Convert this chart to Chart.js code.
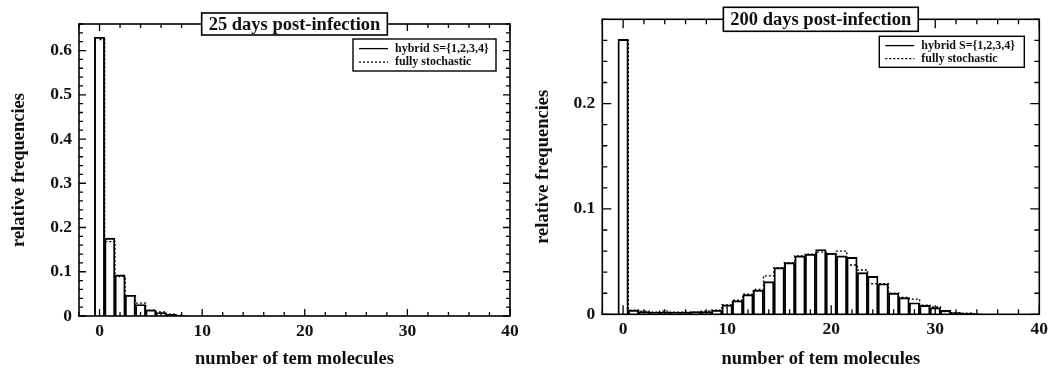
<!DOCTYPE html>
<html>
<head>
<meta charset="utf-8">
<script src="https://cdn.jsdelivr.net/npm/chart.js@4/dist/chart.umd.min.js"></script>
<style>
  body { margin: 0; background: #fff; }
  canvas { position: absolute; top: 0; }
  #left { left: 0; }
  #right { left: 530px; }
</style>
</head>
<body>
<canvas id="left" width="530" height="369"></canvas>
<canvas id="right" width="533" height="369"></canvas>
<script>
// 25 days post-infection
const molecules25 = [0, 1, 2, 3, 4, 5, 6, 7, 8];
const hybrid25 = [0.630, 0.176, 0.093, 0.047, 0.026, 0.014, 0.008, 0.004, 0.001];
const stoch25  = [0.625, 0.168, 0.089, 0.046, 0.029, 0.013, 0.009, 0.004, 0.001];

// 200 days post-infection
const molecules200 = [0, 1, 2, 3, 4, 5, 6, 7, 8, 9, 10, 11, 12, 13, 14, 15, 16, 17,
  18, 19, 20, 21, 22, 23, 24, 25, 26, 27, 28, 29, 30, 31, 32, 33, 34];
const hybrid200 = [0.261, 0.004, 0.0025, 0.002, 0.002, 0.002, 0.002, 0.0025, 0.0025, 0.004,
  0.0089, 0.013, 0.0187, 0.023, 0.031, 0.0443, 0.049, 0.0554, 0.057, 0.0615,
  0.058, 0.0555, 0.054, 0.0395, 0.036, 0.029, 0.020, 0.0158, 0.011, 0.0085,
  0.0064, 0.0038, 0.0016, 0.001, 0.0005];
const stoch200 = [0.260, 0.004, 0.003, 0.002, 0.003, 0.002, 0.002, 0.002, 0.003, 0.004,
  0.0089, 0.0135, 0.019, 0.0235, 0.0365, 0.0443, 0.049, 0.0554, 0.057, 0.059,
  0.057, 0.060, 0.0468, 0.042, 0.029, 0.029, 0.020, 0.016, 0.0144, 0.0087,
  0.007, 0.0026, 0.0016, 0.001, 0.0005];

const xTicksMin = -2, xTicksMax = 40;
const legendLabels = ['hybrid S={1,2,3,4}', 'fully stochastic'];
const xTitle = 'number of tem molecules';
const yTitle = 'relative frequencies';

const SERIF = '"Liberation Serif", "DejaVu Serif", serif';
const INK = '#111';

const framePlugin = {
  id: 'frame',
  afterDatasetsDraw(chart, args, o) {
    const { ctx, chartArea: a, scales: { x, y } } = chart;
    ctx.save();
    ctx.strokeStyle = '#000';
    ctx.lineWidth = 1.3;
    ctx.beginPath();
    x.ticks.forEach(t => {
      const px = x.getPixelForValue(t.value);
      const len = t.label !== '' ? o.major : o.minor;
      ctx.moveTo(px, a.bottom); ctx.lineTo(px, a.bottom - len);
      ctx.moveTo(px, a.top); ctx.lineTo(px, a.top + len);
    });
    y.ticks.forEach(t => {
      const py = y.getPixelForValue(t.value);
      const len = t.label !== '' ? o.major : o.minor;
      ctx.moveTo(a.left, py); ctx.lineTo(a.left + len, py);
      ctx.moveTo(a.right, py); ctx.lineTo(a.right - len, py);
    });
    ctx.stroke();
    ctx.lineWidth = 1.6;
    ctx.strokeRect(a.left, a.top, a.right - a.left, a.bottom - a.top);

    // title box on the top border
    ctx.font = 'bold 18.5px ' + SERIF;
    const tw = ctx.measureText(o.title).width + 14;
    const cx = (a.left + a.right) / 2;
    ctx.fillStyle = '#fff';
    ctx.fillRect(cx - tw / 2, a.top - o.titleH / 2, tw, o.titleH);
    ctx.strokeRect(cx - tw / 2, a.top - o.titleH / 2, tw, o.titleH);
    ctx.fillStyle = INK;
    ctx.textAlign = 'center';
    ctx.textBaseline = 'middle';
    ctx.fillText(o.title, cx, a.top + 1);

    // legend box
    const lx = a.right - o.legRight - o.legW, ly = a.top + o.legTop;
    ctx.fillStyle = '#fff';
    ctx.fillRect(lx, ly, o.legW, o.legH);
    ctx.lineWidth = 1.4;
    ctx.strokeRect(lx, ly, o.legW, o.legH);
    ctx.font = 'bold 12px ' + SERIF;
    ctx.textAlign = 'left';
    ctx.fillStyle = INK;
    const rows = [ly + o.legH * 0.3, ly + o.legH * 0.72];
    ctx.lineWidth = 1.3;
    ctx.beginPath();
    ctx.moveTo(lx + 6, rows[0]); ctx.lineTo(lx + 35, rows[0]);
    ctx.stroke();
    ctx.setLineDash([2, 2]);
    ctx.beginPath();
    ctx.moveTo(lx + 6, rows[1]); ctx.lineTo(lx + 35, rows[1]);
    ctx.stroke();
    ctx.setLineDash([]);
    ctx.fillText(legendLabels[0], lx + 42, rows[0]);
    ctx.fillText(legendLabels[1], lx + 42, rows[1]);
    ctx.restore();
  }
};

function yLabel(v) {
  const r = Math.round(v * 10);
  if (Math.abs(v * 10 - r) > 1e-6) return '';
  return r === 0 ? '0' : (r / 10).toFixed(1);
}

function makePanel(id, xs, hybrid, stoch, p) {
  const ctx = document.getElementById(id).getContext('2d');
  return new Chart(ctx, {
    type: 'bar',
    data: {
      datasets: [{
        type: 'line',
        label: legendLabels[1],
        data: xs.map((m, i) => ({ x: m, y: stoch[i] })),
        stepped: 'middle',
        borderColor: '#000',
        borderWidth: 1.4,
        borderDash: [2, 2],
        pointRadius: 0,
        fill: false
      }, {
        type: 'bar',
        label: legendLabels[0],
        data: xs.map((m, i) => ({ x: m, y: hybrid[i] })),
        backgroundColor: 'rgba(0,0,0,0)',
        borderColor: '#000',
        borderWidth: 1.25,
        barPercentage: 1,
        categoryPercentage: 1
      }]
    },
    options: {
      responsive: false,
      animation: false,
      layout: { padding: { left: 0, right: p.padRight, top: p.padTop, bottom: 0 } },
      plugins: {
        legend: { display: false },
        tooltip: { enabled: false },
        frame: p.frame
      },
      scales: {
        x: {
          type: 'linear',
          min: xTicksMin,
          max: xTicksMax,
          offset: false,
          grid: { display: false, drawTicks: false },
          border: { display: false },
          ticks: {
            stepSize: 2,
            autoSkip: false,
            maxRotation: 0,
            padding: p.xPad,
            color: INK,
            font: { family: SERIF, weight: 'bold', size: 17.5 },
            callback: v => (v >= 0 && v % 10 === 0) ? String(v) : ''
          },
          title: {
            display: true,
            text: xTitle,
            color: INK,
            font: { family: SERIF, weight: 'bold', size: 18.5 },
            padding: { top: 0, bottom: -1 }
          },
          afterFit: s => { s.height = p.xHeight; }
        },
        y: {
          min: 0,
          max: p.yMax,
          grid: { display: false, drawTicks: false },
          border: { display: false },
          ticks: {
            stepSize: 0.02,
            autoSkip: false,
            padding: 7,
            color: INK,
            font: { family: SERIF, weight: 'bold', size: 17.5 },
            callback: yLabel
          },
          title: {
            display: true,
            text: yTitle,
            color: INK,
            font: { family: SERIF, weight: 'bold', size: 18.5 },
            padding: { top: p.yTitlePad, bottom: 0 }
          },
          afterFit: s => { s.width = p.yWidth; }
        }
      }
    },
    plugins: [framePlugin]
  });
}

makePanel('left', molecules25, hybrid25, stoch25, {
  yMax: 0.66, padRight: 20, padTop: 24, xHeight: 53, yWidth: 79, xPad: 5, yTitlePad: 8,
  frame: { major: 7, minor: 4, title: '25 days post-infection', titleH: 22,
    legRight: 14, legTop: 15, legW: 143, legH: 32 }
});

makePanel('right', molecules200, hybrid200, stoch200, {
  yMax: 0.28, padRight: 23.7, padTop: 19.3, xHeight: 54.7, yWidth: 72.3, xPad: 4.5, yTitlePad: 2,
  frame: { major: 9, minor: 5, title: '200 days post-infection', titleH: 24,
    legRight: 15, legTop: 17, legW: 145, legH: 31 }
});
</script>
</body>
</html>
